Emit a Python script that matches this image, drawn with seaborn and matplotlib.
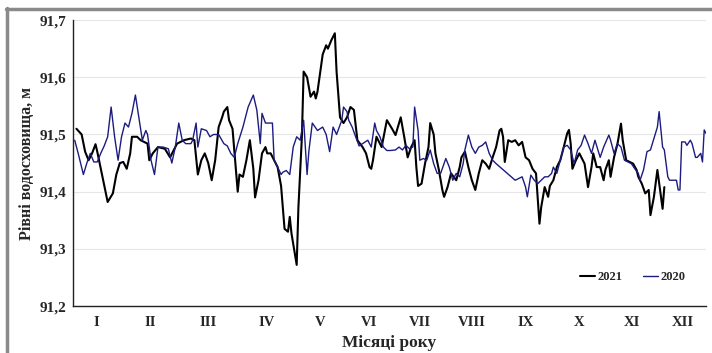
import numpy as np
import pandas as pd
import matplotlib
matplotlib.use("Agg")
import matplotlib.pyplot as plt
import seaborn as sns
from matplotlib.lines import Line2D
from matplotlib.ticker import MultipleLocator, FixedLocator, FuncFormatter

# ==== Data ====
days_2021 = [2, 5, 7, 9, 11, 13, 14, 17, 20, 23, 25, 27, 29, 31, 33, 34, 37, 39, 43, 44,
             46, 49, 53, 56, 60, 64, 68, 70, 72, 74, 76, 78, 80, 82, 84, 86, 87, 89, 90, 92,
             95, 96, 98, 100, 102, 104, 105, 107, 109, 111, 112, 114, 116, 118, 120, 121, 122, 124, 125, 126,
             128, 129, 130, 132, 133, 135, 137, 139, 140, 141, 144, 146, 147, 149, 151, 152, 154, 156, 158, 160,
             162, 164, 167, 169, 171, 172, 173, 175, 178, 181, 184, 186, 189, 191, 193, 195, 197, 198, 199, 201,
             203, 205, 206, 208, 209, 211, 213, 214, 216, 218, 221, 223, 224, 226, 228, 230, 232, 234, 236, 238,
             240, 242, 244, 246, 247, 248, 249, 251, 253, 255, 257, 259, 261, 263, 265, 267, 269, 270, 272, 274,
             275, 277, 279, 281, 283, 285, 286, 287, 288, 290, 292, 295, 297, 299, 300, 302, 304, 306, 307, 309,
             310, 312, 314, 316, 317, 319, 321, 323, 325, 326, 328, 330, 332, 333, 335, 337, 340, 341]
level_2021 = [91.51, 91.50, 91.47, 91.455, 91.467, 91.483, 91.47, 91.426, 91.382, 91.397, 91.43, 91.45, 91.452, 91.44, 91.467, 91.496, 91.496, 91.49, 91.484, 91.455,
              91.467, 91.478, 91.475, 91.46, 91.484, 91.49, 91.493, 91.49, 91.43, 91.455, 91.467, 91.45, 91.42, 91.455, 91.513, 91.53, 91.54, 91.548, 91.525, 91.51,
              91.40, 91.43, 91.426, 91.455, 91.49, 91.44, 91.39, 91.42, 91.467, 91.478, 91.467, 91.467, 91.455, 91.443, 91.41, 91.373, 91.335, 91.33, 91.356, 91.327,
              91.29, 91.272, 91.373, 91.496, 91.61, 91.60, 91.566, 91.575, 91.563, 91.575, 91.64, 91.656, 91.65, 91.665, 91.677, 91.61, 91.53, 91.52, 91.53, 91.548,
              91.543, 91.49, 91.478, 91.467, 91.443, 91.44, 91.455, 91.496, 91.478, 91.525, 91.51, 91.499, 91.53, 91.496, 91.46, 91.478, 91.49, 91.443, 91.41, 91.414,
              91.449, 91.478, 91.52, 91.50, 91.467, 91.438, 91.403, 91.391, 91.408, 91.432, 91.42, 91.443, 91.46, 91.47, 91.443, 91.42, 91.403, 91.432, 91.455, 91.449,
              91.44, 91.46, 91.478, 91.507, 91.51, 91.496, 91.452, 91.49, 91.487, 91.49, 91.481, 91.487, 91.46, 91.455, 91.44, 91.432, 91.344, 91.373, 91.408, 91.391,
              91.41, 91.42, 91.443, 91.455, 91.478, 91.502, 91.508, 91.484, 91.44, 91.455, 91.467, 91.449, 91.408, 91.443, 91.467, 91.443, 91.443, 91.42, 91.438, 91.455,
              91.426, 91.46, 91.484, 91.519, 91.49, 91.455, 91.452, 91.449, 91.438, 91.426, 91.414, 91.397, 91.403, 91.359, 91.391, 91.438, 91.37, 91.408]

days_2020 = [1, 3, 6, 8, 10, 12, 14, 16, 18, 20, 22, 24, 26, 28, 30, 32, 34, 36, 38, 40,
             42, 43, 45, 47, 49, 52, 55, 57, 59, 61, 63, 65, 68, 69, 71, 72, 74, 77, 79, 81,
             84, 87, 89, 91, 93, 95, 98, 101, 104, 106, 108, 109, 111, 113, 115, 116, 118, 120, 121, 123,
             125, 127, 129, 131, 133, 135, 136, 138, 141, 144, 146, 148, 150, 152, 155, 156, 158, 159, 161, 163,
             165, 167, 170, 172, 174, 175, 177, 179, 181, 183, 186, 188, 190, 192, 194, 196, 197, 199, 200, 202,
             204, 206, 208, 210, 212, 215, 217, 219, 221, 223, 225, 226, 228, 230, 232, 234, 236, 238, 240, 242,
             244, 255, 257, 259, 261, 262, 264, 266, 268, 270, 272, 274, 276, 277, 279, 281, 283, 285, 287, 289,
             291, 293, 295, 297, 299, 301, 304, 306, 309, 310, 312, 314, 316, 318, 320, 322, 324, 326, 327, 329,
             331, 333, 335, 337, 338, 340, 341, 343, 344, 346, 348, 349, 350, 351, 353, 354, 356, 357, 359, 360,
             362, 363, 364, 365]
level_2020 = [91.49, 91.467, 91.43, 91.45, 91.467, 91.452, 91.452, 91.467, 91.48, 91.496, 91.548, 91.496, 91.455, 91.496, 91.52, 91.513, 91.537, 91.569, 91.53, 91.49,
              91.507, 91.50, 91.455, 91.43, 91.478, 91.478, 91.475, 91.45, 91.478, 91.52, 91.49, 91.484, 91.484, 91.49, 91.52, 91.478, 91.51, 91.507, 91.496, 91.50,
              91.50, 91.484, 91.48, 91.467, 91.46, 91.484, 91.513, 91.548, 91.569, 91.543, 91.484, 91.537, 91.52, 91.52, 91.52, 91.455, 91.443, 91.43, 91.434, 91.437,
              91.43, 91.478, 91.496, 91.49, 91.525, 91.43, 91.47, 91.52, 91.507, 91.513, 91.50, 91.47, 91.513, 91.50, 91.525, 91.548, 91.54, 91.525, 91.513, 91.496,
              91.48, 91.484, 91.49, 91.478, 91.52, 91.507, 91.496, 91.478, 91.472, 91.472, 91.473, 91.478, 91.473, 91.481, 91.475, 91.478, 91.548, 91.507, 91.455, 91.458,
              91.455, 91.473, 91.449, 91.432, 91.432, 91.458, 91.443, 91.42, 91.432, 91.426, 91.449, 91.473, 91.499, 91.478, 91.467, 91.478, 91.481, 91.487, 91.467, 91.455,
              91.449, 91.42, 91.423, 91.426, 91.408, 91.391, 91.429, 91.42, 91.414, 91.42, 91.426, 91.426, 91.432, 91.443, 91.432, 91.455, 91.478, 91.481, 91.473, 91.449,
              91.473, 91.481, 91.499, 91.484, 91.467, 91.49, 91.46, 91.478, 91.499, 91.49, 91.467, 91.484, 91.478, 91.455, 91.452, 91.449, 91.44, 91.432, 91.42, 91.438,
              91.47, 91.473, 91.493, 91.513, 91.54, 91.478, 91.473, 91.426, 91.42, 91.42, 91.42, 91.403, 91.403, 91.487, 91.487, 91.481, 91.49, 91.484, 91.46, 91.46,
              91.467, 91.452, 91.508, 91.502]

# month boundary ticks as they sit on the original axis (days)
month_bounds = [0, 27, 62, 94, 129, 156, 185, 215, 245, 277, 307, 338, 365]
month_labels = ["I", "II", "III", "IV", "V", "VI", "VII", "VIII", "IX", "X", "XI", "XII"]
y_ticks = [91.2, 91.3, 91.4, 91.5, 91.6, 91.7]

df = pd.concat([
    pd.DataFrame({"day": days_2021, "level": level_2021, "year": "2021"}),
    pd.DataFrame({"day": days_2020, "level": level_2020, "year": "2020"}),
], ignore_index=True)

# ==== Plot ====
sns.set_style("white")
plt.rcParams["font.family"] = ["Liberation Serif", "DejaVu Serif"]
plt.rcParams["font.weight"] = "bold"

fig = plt.figure(figsize=(7.12, 3.53), dpi=100)
ax = fig.add_axes([0.1025, 0.133, 0.889, 0.81])

sns.lineplot(data=df[df["year"] == "2021"], x="day", y="level", color="black",
             linewidth=1.5, estimator=None, sort=False, label="2021", ax=ax)
sns.lineplot(data=df[df["year"] == "2020"], x="day", y="level", color="#1c1c80",
             linewidth=1.0, estimator=None, sort=False, label="2020", ax=ax)

ax.set_xlim(0, 365)
ax.set_ylim(91.2, 91.7)

ax.yaxis.set_major_locator(FixedLocator(y_ticks))
ax.yaxis.set_minor_locator(MultipleLocator(0.05))
ax.yaxis.set_major_formatter(FuncFormatter(lambda v, p: f"{v:.1f}".replace(".", ",")))
ax.tick_params(axis="y", which="major", direction="out", length=4, width=1, labelsize=11, pad=1)
ax.tick_params(axis="y", which="minor", direction="out", length=2, width=0.8)

ax.xaxis.set_major_locator(FixedLocator(month_bounds))
ax.xaxis.set_minor_locator(MultipleLocator(3))
ax.set_xticklabels([])
ax.tick_params(axis="x", which="major", direction="in", length=4, width=1)
ax.tick_params(axis="x", which="minor", direction="in", length=1.5, width=0.6)
for i, lab in enumerate(month_labels):
    mid = (month_bounds[i] + month_bounds[i + 1]) / 2
    ax.text(mid, -0.035, lab, transform=ax.get_xaxis_transform(), ha="center", va="top",
            fontsize=10.5, fontweight="bold")

ax.grid(axis="y", color="#e6e6e6", linewidth=0.8)
ax.set_axisbelow(True)
for s in ["top", "right"]:
    ax.spines[s].set_visible(False)
for s in ["left", "bottom"]:
    ax.spines[s].set_color("#222222")
    ax.spines[s].set_linewidth(1.0)

ax.set_xlabel("Місяці року", fontsize=12.5, fontweight="bold", labelpad=17)
ax.set_ylabel("Рівні водосховища, м", fontsize=11.5, fontweight="bold", labelpad=3)

ax.legend(loc="lower right", bbox_to_anchor=(0.985, 0.04), ncol=2, frameon=False,
          handlelength=1.2, handletextpad=0.2, columnspacing=1.6,
          prop={"weight": "bold", "size": 9})

# grey frame on top and left of the picture
fig.add_artist(Line2D([0.008, 1.0], [0.975, 0.975], transform=fig.transFigure, color="#8a8a8a", linewidth=2.5))
fig.add_artist(Line2D([0.01, 0.01], [0.0, 0.977], transform=fig.transFigure, color="#8a8a8a", linewidth=2.5))

fig.savefig("out.png", dpi=100)
